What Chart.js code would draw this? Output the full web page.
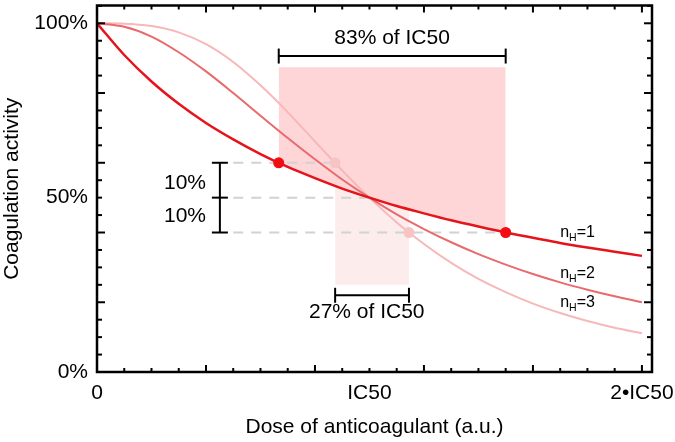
<!DOCTYPE html>
<html>
<head>
<meta charset="utf-8">
<script src="https://cdn.jsdelivr.net/npm/chart.js@4.4.1/dist/chart.umd.min.js"></script>
<style>
  html, body { margin: 0; padding: 0; background: #fff; }
  #wrap { width: 675px; height: 442px; }
</style>
</head>
<body>
<div id="wrap"><canvas id="hill-chart" width="675" height="442"></canvas></div>
<script>
// dose in multiples of IC50, activity in %
const dose = [0, 0.1, 0.2, 0.3, 0.4, 0.5, 0.6, 0.7, 0.8, 0.9, 1.0,
              1.1, 1.2, 1.3, 1.4, 1.5, 1.6, 1.7, 1.8, 1.9, 2.0];
const activityN1 = [100, 90.9, 83.3, 76.9, 71.4, 66.7, 62.5, 58.8, 55.6, 52.6, 50,
                    47.6, 45.5, 43.5, 41.7, 40, 38.5, 37, 35.7, 34.5, 33.3];
const activityN2 = [100, 99, 96.2, 91.7, 86.2, 80, 73.5, 67.1, 61, 55.2, 50,
                    45.2, 41, 37.2, 33.8, 30.8, 28.1, 25.7, 23.6, 21.7, 20];
const activityN3 = [100, 99.9, 99.2, 97.4, 94, 88.9, 82.2, 74.5, 66.1, 57.8, 50,
                    42.9, 36.7, 31.3, 26.7, 22.9, 19.6, 16.9, 14.6, 12.7, 11.1];

const xTickValues = [0, 1, 2];
const xTickLabels = ['0', 'IC50', '2•IC50'];
const yTickValues = [0, 50, 100];
const yTickLabels = ['0%', '50%', '100%'];

// doses giving 60% and 40% activity
const markN1 = [{x: 0.667, y: 60}, {x: 1.5, y: 40}];
const markN3 = [{x: 0.874, y: 60}, {x: 1.145, y: 40}];

const dashLevels = [60, 50, 40];
const dashEnds = [0.874, 1.0, 1.5];
const dashStart = 0.5;

const wideShadeTop = 87.4;
const narrowShadeBottom = 25;

const hillNumbers = ['1', '2', '3'];
const hillLabelY = [38.7, 26.9, 18.7];
const hillLabelX = 1.7;

const FONT = '"Liberation Sans", Arial, Helvetica, sans-serif';
const RED = '#e5141b';
const MID = '#e86a6c';
const PALE = '#f6b8b9';

function toPoints(ys) {
    return dose.map((d, i) => ({x: d, y: ys[i]}));
}

const dashSets = dashLevels.map((lvl, i) => ({
    data: [{x: dashStart, y: lvl}, {x: dashEnds[i], y: lvl}],
    borderColor: '#d2d2d2',
    borderWidth: 2,
    borderDash: [10, 8],
    pointRadius: 0,
    order: 8
}));

// frame, inward ticks, brackets and annotation text
const overlay = {
    id: 'overlay',
    afterDatasetsDraw(chart) {
        const {ctx, chartArea: a, scales: {x, y}} = chart;
        const seg = (x0, y0, x1, y1) => {
            ctx.beginPath(); ctx.moveTo(x0, y0); ctx.lineTo(x1, y1); ctx.stroke();
        };
        ctx.save();
        ctx.strokeStyle = '#000';
        ctx.fillStyle = '#000';

        ctx.lineWidth = 2;
        for (let i = 0; i <= 20; i++) {
            const px = x.getPixelForValue(i / 10);
            const len = i % 4 === 0 ? 7 : 4;
            seg(px, a.bottom, px, a.bottom - len);
            seg(px, a.top, px, a.top + len);
        }
        for (let v = 0; v <= 105; v += 5) {
            const py = y.getPixelForValue(v);
            const len = v % 20 === 0 ? 8 : 5;
            seg(a.left, py, a.left + len, py);
            seg(a.right, py, a.right - len, py);
        }
        ctx.lineWidth = 2.5;
        ctx.strokeRect(a.left, a.top, a.right - a.left, a.bottom - a.top);

        // brackets
        ctx.lineWidth = 2;
        const hBracket = (x0, x1, yv) => {
            const l = x.getPixelForValue(x0), r = x.getPixelForValue(x1), py = y.getPixelForValue(yv);
            seg(l, py, r, py);
            seg(l, py - 7.5, l, py + 7.5);
            seg(r, py - 7.5, r, py + 7.5);
        };
        hBracket(markN1[0].x, markN1[1].x, 90.6);
        hBracket(markN3[0].x, markN3[1].x, 22);

        const bx = x.getPixelForValue(0.451);
        seg(bx, y.getPixelForValue(60), bx, y.getPixelForValue(40));
        [60, 50, 40].forEach(v => {
            const py = y.getPixelForValue(v);
            seg(bx - 8, py, bx + 8, py);
        });

        ctx.font = '21px ' + FONT;
        ctx.textAlign = 'center';
        ctx.textBaseline = 'middle';
        ctx.fillText('83% of IC50', x.getPixelForValue(1.083), y.getPixelForValue(95.8));
        ctx.fillText('27% of IC50', x.getPixelForValue(0.99), y.getPixelForValue(17.2));
        ctx.fillText('10%', x.getPixelForValue(0.323), y.getPixelForValue(54.1));
        ctx.fillText('10%', x.getPixelForValue(0.323), y.getPixelForValue(44.6));

        // n_H labels
        ctx.textAlign = 'left';
        ctx.textBaseline = 'alphabetic';
        hillNumbers.forEach((n, i) => {
            let px = x.getPixelForValue(hillLabelX);
            const py = y.getPixelForValue(hillLabelY[i]);
            ctx.font = '16px ' + FONT;
            ctx.fillText('n', px, py);
            px += ctx.measureText('n').width;
            ctx.font = '10.5px ' + FONT;
            ctx.fillText('H', px, py + 4);
            px += ctx.measureText('H').width;
            ctx.font = '16px ' + FONT;
            ctx.fillText('=' + n, px, py);
        });
        ctx.restore();
    }
};

const chart = new Chart(document.getElementById('hill-chart'), {
    type: 'line',
    data: {
        datasets: [
            { label: 'nH=1', data: toPoints(activityN1), borderColor: RED, borderWidth: 2.5,
              pointRadius: 0, cubicInterpolationMode: 'monotone', order: 5 },
            { label: 'nH=2', data: toPoints(activityN2), borderColor: MID, borderWidth: 2,
              pointRadius: 0, cubicInterpolationMode: 'monotone', order: 6 },
            { label: 'nH=3', data: toPoints(activityN3), borderColor: PALE, borderWidth: 2,
              pointRadius: 0, cubicInterpolationMode: 'monotone', order: 7 },
            // shaded band above the nH=1 curve
            { data: [{x: markN1[0].x, y: wideShadeTop}, {x: markN1[1].x, y: wideShadeTop}],
              borderWidth: 0, borderColor: 'rgba(0,0,0,0)', pointRadius: 0,
              backgroundColor: '#ffd6d8', fill: {target: 0}, order: 9 },
            // narrow band for nH=3
            { data: [{x: markN3[0].x, y: 60}, {x: markN3[1].x, y: 60}],
              borderWidth: 0, borderColor: 'rgba(0,0,0,0)', pointRadius: 0,
              backgroundColor: '#fdecec', fill: {value: narrowShadeBottom}, order: 10 },
            ...dashSets,
            { data: markN3, showLine: false, pointRadius: 5.5, pointBorderWidth: 0,
              pointBackgroundColor: '#f8c3c4', order: 4 },
            { data: markN1, showLine: false, pointRadius: 5.5, pointBorderWidth: 0,
              pointBackgroundColor: '#f20d12', order: 3 }
        ]
    },
    options: {
        responsive: false,
        devicePixelRatio: 1,
        animation: false,
        layout: { padding: { left: 0, top: 4, right: 23, bottom: 0 } },
        plugins: { legend: { display: false }, tooltip: { enabled: false } },
        scales: {
            x: {
                type: 'linear', min: 0, max: 2.037,
                grid: { display: false, drawTicks: false }, border: { display: false },
                afterBuildTicks: s => { s.ticks = xTickValues.map(v => ({value: v})); },
                afterFit: s => { s.height = 70; s.paddingLeft = 0; s.paddingRight = 0; },
                ticks: {
                    color: '#000', padding: 9, maxRotation: 0, autoSkip: false,
                    font: { family: FONT, size: 21 },
                    callback: v => xTickLabels[xTickValues.indexOf(v)]
                },
                title: { display: true, text: 'Dose of anticoagulant (a.u.)', color: '#000',
                         font: { family: FONT, size: 21 }, padding: { top: 0, bottom: 2 } }
            },
            y: {
                type: 'linear', min: 0, max: 105.1,
                grid: { display: false, drawTicks: false }, border: { display: false },
                afterBuildTicks: s => { s.ticks = yTickValues.map(v => ({value: v})); },
                afterFit: s => { s.width = 97; s.paddingTop = 0; s.paddingBottom = 0; },
                ticks: {
                    color: '#000', padding: 9, autoSkip: false,
                    font: { family: FONT, size: 21 },
                    callback: v => yTickLabels[yTickValues.indexOf(v)]
                },
                title: { display: true, text: 'Coagulation activity', color: '#000',
                         font: { family: FONT, size: 21 }, padding: { top: 0, bottom: 0 } }
            }
        }
    },
    plugins: [overlay]
});
</script>
</body>
</html>
